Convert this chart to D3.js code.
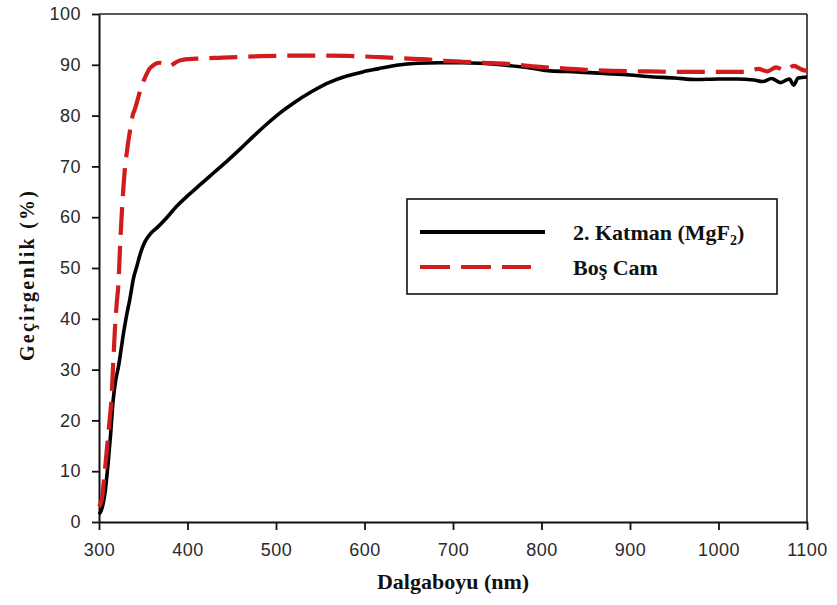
<!DOCTYPE html>
<html>
<head>
<meta charset="utf-8">
<script src="https://cdn.jsdelivr.net/npm/d3@7"></script>
<style>
  html, body { margin: 0; padding: 0; background: #fff; }
  svg { display: block; }
</style>
</head>
<body>
<svg id="chart" width="837" height="605"></svg>
<script>
// Transmittance spectra: MgF2 second layer vs. bare glass
const seriesNames = ["2. Katman (MgF", "Boş Cam"];

const katmanWl = [300,303,307,310,313,316,319,322,325,328,331,335,339,343,347,352,358,366,376,388,400,415,430,445,460,475,490,505,520,540,561,580,598,615,636,660,685,710,730,760,787,810,840,870,900,920,950,975,1000,1020,1040,1050,1060,1070,1080,1085,1090,1100];
const katmanT  = [1.5,2.5,6,11,17,24,28,30.6,34,37.5,40.5,44,48,50.5,53,55.2,56.7,58,59.8,62.2,64.2,66.5,68.8,71.1,73.5,76,78.4,80.6,82.5,84.7,86.6,87.8,88.6,89.2,89.9,90.3,90.4,90.4,90.3,89.9,89.4,88.8,88.6,88.3,88.0,87.7,87.4,87.1,87.2,87.2,87.0,86.7,87.3,86.5,87.2,86.0,87.4,87.6];

const camWl = [300,303,306,309,312,314,316,318,320,322,324,326,329,332,335,338,341,345,348,352,357,362,368,374,380,386,392,410,440,482,520,561,590,617,640,666,690,711,735,761,790,824,850,880,920,960,1000,1030,1045,1055,1065,1075,1085,1095,1100];
const camT  = [3,4.3,9,14.5,20,24,31,38,43,47,55,61.5,69,73.5,77,80,81.5,84,85.8,87.5,89.2,90,90.4,90.2,89.8,90.4,90.9,91.2,91.4,91.7,91.8,91.8,91.7,91.5,91.3,91.1,90.8,90.6,90.4,90.2,89.7,89.3,89.0,88.8,88.7,88.6,88.6,88.6,89.2,88.7,89.5,88.9,89.8,89.0,88.8];

const xTicks = [300,400,500,600,700,800,900,1000,1100];
const yTicks = [0,10,20,30,40,50,60,70,80,90,100];

const W = 837, H = 605;
const margin = { top: 14, right: 30, bottom: 83, left: 99 };
const svg = d3.select("#chart");

const x = d3.scaleLinear().domain([300, 1100]).range([margin.left, W - margin.right]);
const y = d3.scaleLinear().domain([0, 100]).range([H - margin.bottom, margin.top]);

const tickFont = "'Liberation Sans', Arial, sans-serif";
const titleFont = "'Liberation Serif', 'Times New Roman', serif";

// frame: top and right borders
svg.append("line")
  .attr("x1", x(300)).attr("x2", x(1100))
  .attr("y1", y(100)).attr("y2", y(100))
  .attr("stroke", "#222").attr("stroke-width", 1.6);
svg.append("line")
  .attr("x1", x(1100)).attr("x2", x(1100))
  .attr("y1", y(100)).attr("y2", y(0))
  .attr("stroke", "#222").attr("stroke-width", 1.6);

// axes
const xAxis = svg.append("g")
  .attr("transform", `translate(0,${y(0)})`)
  .call(d3.axisBottom(x).tickValues(xTicks).tickFormat(d3.format("d"))
    .tickSize(8).tickPadding(13).tickSizeOuter(0));
const yAxis = svg.append("g")
  .attr("transform", `translate(${x(300)},0)`)
  .call(d3.axisLeft(y).tickValues(yTicks).tickFormat(d3.format("d"))
    .tickSize(7).tickPadding(11).tickSizeOuter(0));

[xAxis, yAxis].forEach(g => {
  g.select(".domain").attr("stroke", "#111").attr("stroke-width", 2);
  g.selectAll(".tick line").attr("stroke", "#111").attr("stroke-width", 1.8);
  g.selectAll(".tick text")
    .attr("fill", "#2a2a2a")
    .style("font-family", tickFont)
    .style("font-size", "18px")
    .style("letter-spacing", "0.5px");
});

// curves
const line = d3.line().x(d => x(d[0])).y(d => y(d[1])).curve(d3.curveMonotoneX);
const katman = katmanWl.map((w, i) => [w, katmanT[i]]);
const cam = camWl.map((w, i) => [w, camT[i]]);

svg.append("path")
  .datum(katman)
  .attr("d", line)
  .attr("fill", "none")
  .attr("stroke", "#000")
  .attr("stroke-width", 3.6)
  .attr("stroke-linejoin", "round");

svg.append("path")
  .datum(cam)
  .attr("d", line)
  .attr("fill", "none")
  .attr("stroke", "#d01c1c")
  .attr("stroke-width", 4.2)
  .attr("stroke-dasharray", "28,11")
  .attr("stroke-linejoin", "round");

// axis titles
svg.append("text")
  .attr("x", (x(300) + x(1100)) / 2)
  .attr("y", 589)
  .attr("text-anchor", "middle")
  .style("font-family", titleFont)
  .style("font-weight", "bold")
  .style("font-size", "22px")
  .attr("fill", "#111")
  .text("Dalgaboyu (nm)");

svg.append("text")
  .attr("transform", "translate(34,276) rotate(-90)")
  .attr("text-anchor", "middle")
  .attr("textLength", 170)
  .attr("lengthAdjust", "spacing")
  .style("font-family", titleFont)
  .style("font-weight", "bold")
  .style("font-size", "20px")
  .attr("fill", "#111")
  .text("Geçirgenlik (%)");

// legend
const lg = svg.append("g");
lg.append("rect")
  .attr("x", 407).attr("y", 199).attr("width", 370).attr("height", 95)
  .attr("fill", "#fff").attr("stroke", "#111").attr("stroke-width", 1.6);

lg.append("line")
  .attr("x1", 420).attr("x2", 545).attr("y1", 232).attr("y2", 232)
  .attr("stroke", "#000").attr("stroke-width", 4);
lg.append("line")
  .attr("x1", 420).attr("x2", 531).attr("y1", 267).attr("y2", 267)
  .attr("stroke", "#d01c1c").attr("stroke-width", 4.2)
  .attr("stroke-dasharray", "30,11");

const t1 = lg.append("text")
  .attr("x", 573).attr("y", 240)
  .style("font-family", titleFont)
  .style("font-weight", "bold")
  .style("font-size", "22px")
  .attr("fill", "#111");
t1.append("tspan").text(seriesNames[0]);
t1.append("tspan").attr("dy", 5).style("font-size", "14px").text("2");
t1.append("tspan").attr("dy", -5).text(")");

lg.append("text")
  .attr("x", 573).attr("y", 275)
  .style("font-family", titleFont)
  .style("font-weight", "bold")
  .style("font-size", "22px")
  .attr("fill", "#111")
  .text(seriesNames[1]);
</script>
</body>
</html>
